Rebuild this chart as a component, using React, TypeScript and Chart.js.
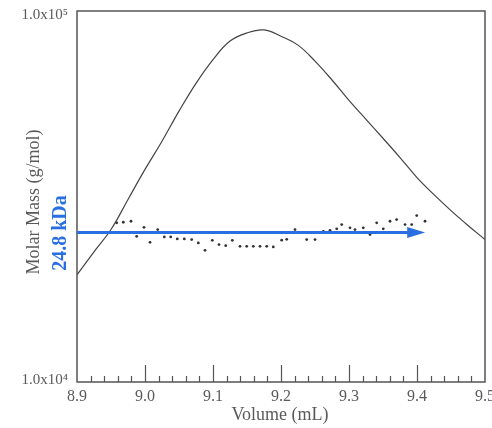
import React, { useEffect, useRef } from "react";
import { Chart, registerables } from "chart.js";

Chart.register(...registerables);

// Axis tick labels
const X_TICK_LABELS = ["8.9", "9.0", "9.1", "9.2", "9.3", "9.4", "9.5"];
const Y_TICK_LABELS = ["1.0x10⁴", "1.0x10⁵"];
const Y_TICK_VALUES = [10000, 100000];

// Detector trace (relative signal, %)
const CURVE_VOLUME = [
  8.9, 8.925, 8.95, 8.975, 9.0, 9.025, 9.05, 9.075, 9.1, 9.125, 9.15, 9.175, 9.2,
  9.225, 9.25, 9.275, 9.3, 9.325, 9.35, 9.375, 9.4, 9.425, 9.45, 9.475, 9.5,
];
const CURVE_SIGNAL = [
  28.9, 35.1, 41.1, 49.2, 57.3, 64.9, 73.0, 80.5, 86.9, 91.9, 94.1, 94.9, 93.2,
  90.8, 86.5, 81.4, 75.9, 70.8, 65.7, 60.5, 55.1, 50.5, 46.2, 42.2, 38.4,
];

// Molar mass points (g/mol)
const MASS_VOLUME = [
  8.9584, 8.9681, 8.9794, 8.9878, 8.9985, 9.0074, 9.0187, 9.0284, 9.0378, 9.0475,
  9.0578, 9.0687, 9.0784, 9.0882, 9.099, 9.1088, 9.1187, 9.1284, 9.1397, 9.1496,
  9.1593, 9.1691, 9.179, 9.1887, 9.201, 9.2084, 9.2206, 9.2378, 9.25, 9.2622,
  9.2721, 9.2819, 9.2893, 9.3015, 9.3088, 9.321, 9.3309, 9.3407, 9.3504, 9.3603,
  9.3701, 9.3824, 9.3922, 9.3996, 9.4118,
];
const MASS_VALUE = [
  26850, 26950, 27120, 24700, 26120, 23790, 25750, 24610, 24610, 24300,
  24300, 24200, 23710, 22640, 24090, 23460, 23310, 24090, 23210, 23210,
  23210, 23210, 23210, 23120, 24120, 24240, 25750, 24200, 24200, 25480,
  25640, 25870, 26570, 26030, 25750, 26030, 24960, 26850, 25870, 27120,
  27410, 26570, 26570, 28100, 27120,
];

// Weight-average arrow
const ARROW_MASS = 25300;
const ARROW_END_VOLUME = 9.412;
const ARROW_LABEL = "24.8 kDa";

const X_TITLE = "Volume (mL)";
const Y_TITLE = "Molar Mass (g/mol)";

const BLUE = "#2a6fe2";
const TEXT = "#5a5a5a";
const SERIF = "'Liberation Serif', 'DejaVu Serif', serif";

const decorPlugin = {
  id: "decor",
  afterDatasetsDraw(chart: any) {
    const { ctx, chartArea: a, scales } = chart;
    const x = scales.x;
    const y = scales.y;
    ctx.save();
    // frame
    ctx.strokeStyle = "#555";
    ctx.lineWidth = 1.5;
    ctx.strokeRect(a.left, a.top, a.right - a.left, a.bottom - a.top);
    // inward x ticks
    ctx.lineWidth = 1.2;
    for (let i = 1; i < 30; i++) {
      const v = 8.9 + i * 0.02;
      const px = Math.round(x.getPixelForValue(v)) + 0.5;
      const major = i % 5 === 0;
      ctx.beginPath();
      ctx.moveTo(px, a.bottom);
      ctx.lineTo(px, a.bottom - (major ? 17 : 6));
      ctx.stroke();
    }
    // x tick labels
    ctx.fillStyle = TEXT;
    ctx.textAlign = "center";
    ctx.textBaseline = "middle";
    ctx.font = `16px ${SERIF}`;
    X_TICK_LABELS.forEach((t) => {
      ctx.fillText(t, x.getPixelForValue(parseFloat(t)), a.bottom + 15);
    });
    // y tick labels
    ctx.textAlign = "right";
    ctx.font = `15px ${SERIF}`;
    Y_TICK_VALUES.forEach((v, i) => {
      let py = y.getPixelForValue(v);
      py += i === 0 ? -2 : 4;
      ctx.fillText(Y_TICK_LABELS[i], a.left - 9, py);
    });
    // arrow
    const ay = y.getPixelForValue(ARROW_MASS);
    const ax2 = x.getPixelForValue(ARROW_END_VOLUME);
    ctx.strokeStyle = BLUE;
    ctx.fillStyle = BLUE;
    ctx.lineWidth = 3;
    ctx.beginPath();
    ctx.moveTo(a.left, ay);
    ctx.lineTo(ax2 - 12, ay);
    ctx.stroke();
    ctx.beginPath();
    ctx.moveTo(ax2, ay);
    ctx.lineTo(ax2 - 18, ay - 5.5);
    ctx.lineTo(ax2 - 18, ay + 5.5);
    ctx.closePath();
    ctx.fill();
    // rotated texts
    ctx.save();
    ctx.translate(61, 233);
    ctx.rotate(-Math.PI / 2);
    ctx.textAlign = "center";
    ctx.textBaseline = "middle";
    ctx.font = `bold 20px ${SERIF}`;
    ctx.fillStyle = BLUE;
    ctx.fillText(ARROW_LABEL, 0, 0);
    ctx.restore();
    ctx.save();
    ctx.translate(34, 202);
    ctx.rotate(-Math.PI / 2);
    ctx.textAlign = "center";
    ctx.textBaseline = "middle";
    ctx.font = `18px ${SERIF}`;
    ctx.fillStyle = TEXT;
    ctx.fillText(Y_TITLE, 0, 0);
    ctx.restore();
    // x title
    ctx.textAlign = "center";
    ctx.textBaseline = "middle";
    ctx.font = `18px ${SERIF}`;
    ctx.fillStyle = TEXT;
    ctx.fillText(X_TITLE, (a.left + a.right) / 2 - 1, 415);
    ctx.restore();
  },
};

export default function App() {
  const ref = useRef<HTMLCanvasElement | null>(null);
  useEffect(() => {
    document.body.style.margin = "0";
    if (!ref.current) return;
    const chart = new Chart(ref.current, {
      type: "line",
      data: {
        datasets: [
          {
            label: "signal",
            data: CURVE_VOLUME.map((v, i) => ({ x: v, y: CURVE_SIGNAL[i] })),
            yAxisID: "y2",
            borderColor: "#444",
            borderWidth: 1.2,
            pointRadius: 0,
            tension: 0.4,
            fill: false,
          },
          {
            label: "mass",
            data: MASS_VOLUME.map((v, i) => ({ x: v, y: MASS_VALUE[i] })),
            yAxisID: "y",
            showLine: false,
            pointRadius: 1.4,
            pointBackgroundColor: "#333",
            pointBorderWidth: 0,
          },
        ],
      },
      options: {
        animation: false,
        responsive: false,
        events: [],
        layout: { padding: { top: 11, right: 7, left: 0, bottom: 0 } },
        plugins: { legend: { display: false }, tooltip: { enabled: false } },
        scales: {
          x: {
            type: "linear",
            min: 8.9,
            max: 9.5,
            grid: { display: false, drawTicks: false },
            border: { display: false },
            ticks: { display: false },
            afterFit: (s: any) => {
              s.height = 46;
            },
          },
          y: {
            type: "logarithmic",
            min: 10000,
            max: 100000,
            grid: { display: false, drawTicks: false },
            border: { display: false },
            ticks: { display: false },
            afterFit: (s: any) => {
              s.width = 77;
            },
          },
          y2: {
            type: "linear",
            display: false,
            min: 0,
            max: 100,
          },
        },
      },
      plugins: [decorPlugin],
    });
    return () => chart.destroy();
  }, []);
  return (
    <div style={{ width: 492, height: 428 }}>
      <canvas ref={ref} width={492} height={428} />
    </div>
  );
}
